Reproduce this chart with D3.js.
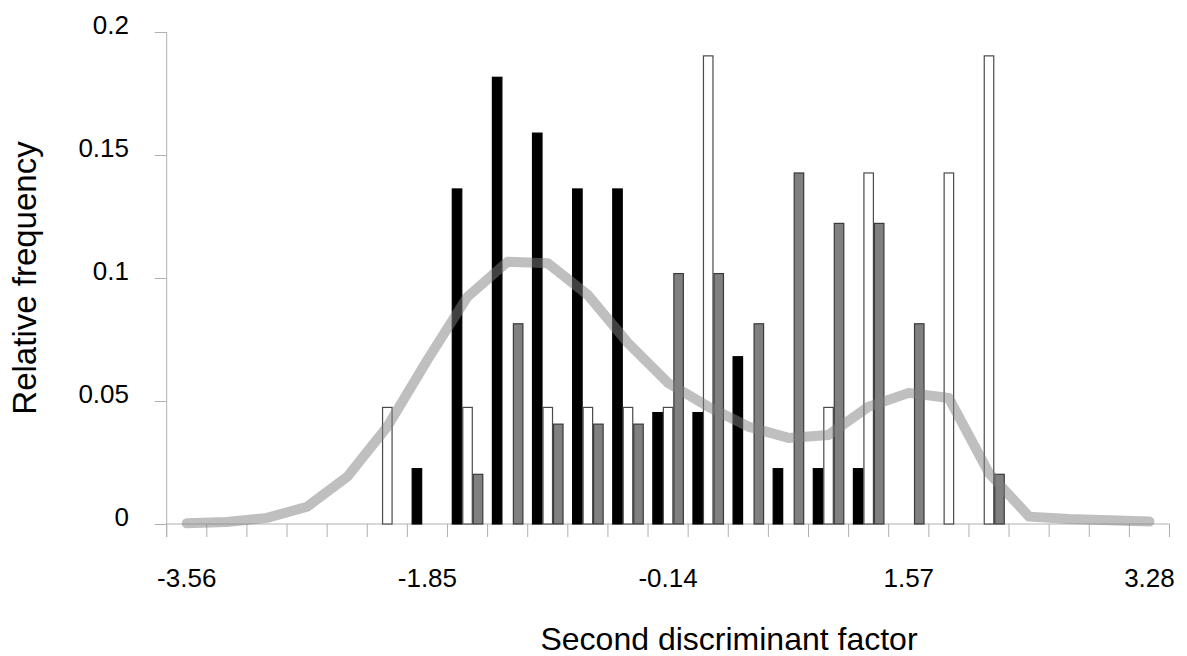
<!DOCTYPE html>
<html>
<head>
<meta charset="utf-8">
<script src="https://cdn.jsdelivr.net/npm/d3@7"></script>
<style>
	body { margin: 0; background: #fff; }
	svg text { font-family: "Liberation Sans", Arial, sans-serif; fill: #000; }
</style>
</head>
<body>
<div id="chart"></div>
<script>
'use strict';

// - category midpoints on the second discriminant factor
const categories = [-3.56, -3.275, -2.99, -2.705, -2.42, -2.135, -1.85, -1.565, -1.28, -0.995,
	-0.71, -0.425, -0.14, 0.145, 0.43, 0.715, 1.0, 1.285, 1.57, 1.855, 2.14, 2.425, 2.71, 2.995, 3.28];

// - only every 6th category gets a label
const tickLabels = ['-3.56', '-1.85', '-0.14', '1.57', '3.28'];

// - relative frequencies, one value per category
const blackSeries = [0, 0, 0, 0, 0, 0, 0.0227, 0.1364, 0.1818, 0.1591, 0.1364, 0.1364, 0.0455,
	0.0455, 0.0682, 0.0227, 0.0227, 0.0227, 0, 0, 0, 0, 0, 0, 0];
const whiteSeries = [0, 0, 0, 0, 0, 0.0476, 0, 0.0476, 0, 0.0476, 0.0476, 0.0476, 0.0476,
	0.1905, 0, 0, 0.0476, 0.1429, 0, 0.1429, 0.1905, 0, 0, 0, 0];
const graySeries = [0, 0, 0, 0, 0, 0, 0, 0.0204, 0.0816, 0.0408, 0.0408, 0.0408, 0.102,
	0.102, 0.0816, 0.1429, 0.1224, 0.1224, 0.0816, 0, 0.0204, 0, 0, 0, 0];

// - overall curve (thick light line)
const curve = [0.0003, 0.0008, 0.0025, 0.007, 0.0192, 0.0396, 0.0667, 0.0924, 0.1066, 0.106,
	0.0931, 0.0736, 0.0573, 0.0477, 0.0396, 0.035, 0.0362, 0.0477, 0.0533, 0.0512, 0.0207,
	0.003, 0.002, 0.0015, 0.001];

const yTicks = [0, 0.05, 0.1, 0.15, 0.2];

const W = 1187, H = 656;
const m = { left: 166.7, right: 1169.5, top: 32, bottom: 524 };
const axisColor = '#b0b0b0';

const svg = d3.select('#chart').append('svg')
	.attr('width', W)
	.attr('height', H);

const x = d3.scaleBand()
	.domain(d3.range(categories.length))
	.range([m.left, m.right])
	.padding(0);

const y = d3.scaleLinear()
	.domain([0, 0.2])
	.range([m.bottom, m.top]);

const series = [
	{ key: 'black', values: blackSeries, fill: '#000000', stroke: '#000000' },
	{ key: 'white', values: whiteSeries, fill: '#ffffff', stroke: '#4a4a4a' },
	{ key: 'gray',  values: graySeries,  fill: '#808080', stroke: '#3a3a3a' }
];

// sub band inside each category, order black / white / gray
const xs = d3.scaleBand()
	.domain(series.map(s => s.key))
	.range([0, x.bandwidth()])
	.paddingInner(0)
	.paddingOuter(0.41);

// - axes
const yAxis = svg.append('g').attr('transform', `translate(${m.left},0)`)
	.call(d3.axisLeft(y).tickValues(yTicks).tickSize(12).tickFormat(''));
yAxis.select('.domain').remove();
yAxis.selectAll('line').attr('stroke', axisColor);

svg.append('line')
	.attr('x1', m.left).attr('x2', m.left)
	.attr('y1', m.top).attr('y2', m.bottom + 13)
	.attr('stroke', axisColor);

yTicks.forEach(t => {
	svg.append('text')
		.attr('x', 129)
		.attr('y', y(t) + 2)
		.attr('text-anchor', 'end')
		.style('font-size', '26px')
		.text(t === 0 ? '0' : String(t));
});

// x ticks at the category edges
const edges = d3.range(categories.length + 1).map(i => i < categories.length ? x(i) : m.right);
svg.append('g').selectAll('line')
	.data(edges)
	.join('line')
		.attr('x1', d => d).attr('x2', d => d)
		.attr('y1', m.bottom).attr('y2', m.bottom + 13)
		.attr('stroke', axisColor);

svg.append('line')
	.attr('x1', m.left).attr('x2', m.right)
	.attr('y1', m.bottom).attr('y2', m.bottom)
	.attr('stroke', axisColor);

categories.forEach((c, i) => {
	if (i % 6 !== 0) return;
	svg.append('text')
		.attr('x', x(i) + x.bandwidth() / 2)
		.attr('y', 587)
		.attr('text-anchor', 'middle')
		.style('font-size', '26px')
		.text(tickLabels[i / 6]);
});

// - bars
for (let s of series)
{
	svg.append('g').attr('class', 'bars-' + s.key)
		.selectAll('rect')
		.data(s.values.map((v, i) => ({ v: v, i: i })).filter(d => d.v > 0))
		.join('rect')
			.attr('x', d => x(d.i) + xs(s.key) + 0.5)
			.attr('width', xs.bandwidth() - 1)
			.attr('y', d => y(d.v) + 0.5)
			.attr('height', d => y(0) - y(d.v) - 0.5)
			.attr('fill', s.fill)
			.attr('stroke', s.stroke)
			.attr('stroke-width', 1.2);
}

// - curve on top, semi transparent
const line = d3.line()
	.x((d, i) => x(i) + x.bandwidth() / 2)
	.y(d => y(d));

svg.append('path')
	.datum(curve)
	.attr('d', line)
	.attr('fill', 'none')
	.attr('stroke', '#808080')
	.attr('stroke-opacity', 0.5)
	.attr('stroke-width', 10)
	.attr('stroke-linejoin', 'round')
	.attr('stroke-linecap', 'round');

// - axis titles
svg.append('text')
	.attr('x', 729)
	.attr('y', 650)
	.attr('text-anchor', 'middle')
	.style('font-size', '32px')
	.text('Second discriminant factor');

svg.append('text')
	.attr('transform', 'translate(36,278) rotate(-90)')
	.attr('text-anchor', 'middle')
	.style('font-size', '33px')
	.text('Relative frequency');
</script>
</body>
</html>
